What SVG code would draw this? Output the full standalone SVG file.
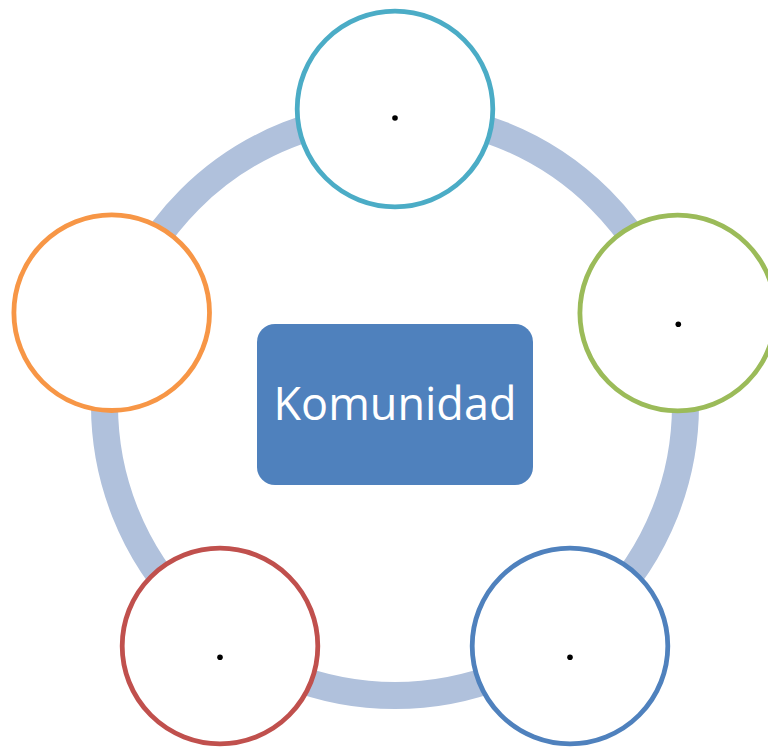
<svg xmlns="http://www.w3.org/2000/svg" width="768" height="748" viewBox="0 0 768 748">
  <style>
    .ring { fill: none; stroke: #B0C1DC; stroke-width: 27; }
    .node { fill: #FFFFFF; stroke-width: 4.8; }
    .dot { fill: #000000; }
    .label { font-family: "Open Sans", "Noto Sans", "Liberation Sans", sans-serif; font-size: 45px; fill: #FFFFFF; text-anchor: middle; }
  </style>
  <rect x="0" y="0" width="768" height="748" fill="#FFFFFF"/>
  <g id="connectors">
    <circle class="ring" cx="395" cy="405" r="290.5"/>
  </g>
  <g id="node-top">
    <circle class="node" cx="395" cy="109" r="97.8" stroke="#4BACC6"/>
    <circle class="dot" cx="395" cy="118" r="2.8"/>
  </g>
  <g id="node-right">
    <circle class="node" cx="677.7" cy="313" r="97.8" stroke="#9BBB59"/>
    <circle class="dot" cx="678.3" cy="324.3" r="2.8"/>
  </g>
  <g id="node-bottom-right">
    <circle class="node" cx="570" cy="646" r="97.8" stroke="#4F81BD"/>
    <circle class="dot" cx="570" cy="657.3" r="2.8"/>
  </g>
  <g id="node-bottom-left">
    <circle class="node" cx="220" cy="646" r="97.8" stroke="#C0504D"/>
    <circle class="dot" cx="220" cy="657.3" r="2.8"/>
  </g>
  <g id="node-left">
    <circle class="node" cx="111.7" cy="312.7" r="97.8" stroke="#F79646"/>
  </g>
  <g id="node-center">
    <rect x="257" y="324" width="276" height="161" rx="18" ry="18" fill="#4F81BD"/>
    <text class="label" x="395" y="420">Komunidad</text>
  </g>
</svg>
